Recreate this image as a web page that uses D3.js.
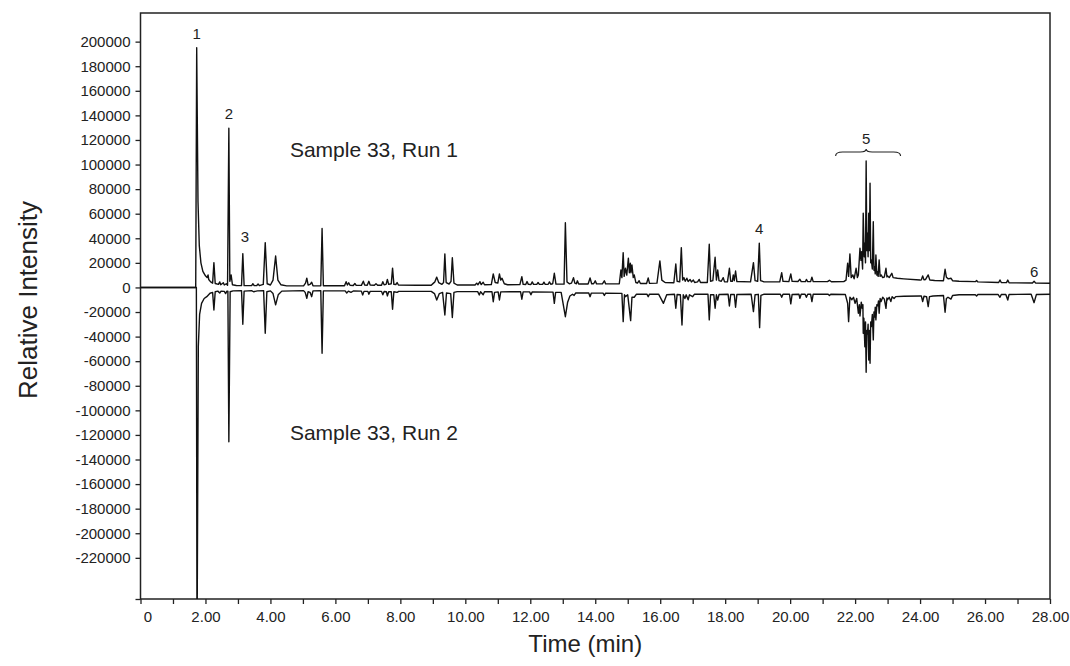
<!DOCTYPE html>
<html>
<head>
<meta charset="utf-8">
<script src="https://cdn.jsdelivr.net/npm/d3@7"></script>
<style>
  body { margin: 0; background: #fff; }
  text { font-family: "Liberation Sans", Arial, sans-serif; fill: #222; }
</style>
</head>
<body>
<div class="chromatogram"></div>
<script>
// Run 1 trace, [time (min), intensity]
const run1 = [
  [0, 0], [1.70, 0], [1.73, 195000], [1.77, 70000], [1.81, 34000], [1.86, 20000], [1.92, 13000], [2.00, 9500],
  [2.05, 8000], [2.08, 10200], [2.10, 6500], [2.16, 4500], [2.22, 3500], [2.26, 20200], [2.30, 3200], [2.40, 2500],
  [2.44, 4500], [2.47, 2200], [2.55, 3800], [2.58, 2000], [2.64, 3000], [2.68, 1800], [2.72, 129500], [2.75, 5000],
  [2.79, 10200], [2.83, 2200], [2.95, 1600], [3.11, 1500], [3.15, 27500], [3.19, 1500], [3.42, 1500], [3.46, 3000],
  [3.50, 1500], [3.58, 1600], [3.62, 2800], [3.66, 1500], [3.78, 2500], [3.84, 36500], [3.90, 3000], [4.00, 2000],
  [4.08, 6000], [4.16, 25600], [4.23, 6000], [4.32, 2200], [4.50, 1300], [5.02, 1300], [5.08, 3500], [5.12, 7500],
  [5.16, 2000], [5.22, 2500], [5.27, 4200], [5.31, 1300], [5.55, 1300], [5.59, 48000], [5.63, 1400], [6.28, 1400],
  [6.33, 4700], [6.37, 2000], [6.41, 3800], [6.45, 1800], [6.55, 1600], [6.60, 3200], [6.64, 1700], [6.80, 1700],
  [6.86, 5100], [6.90, 2000], [6.98, 1800], [7.03, 5000], [7.07, 2000], [7.20, 1800], [7.25, 3000], [7.30, 1800],
  [7.42, 1800], [7.46, 4700], [7.50, 2200], [7.56, 2500], [7.60, 6500], [7.64, 2500], [7.72, 3000], [7.76, 15700],
  [7.80, 2500], [7.86, 2400], [7.90, 4000], [7.94, 2000], [8.50, 1800], [8.95, 1800], [9.02, 3500], [9.06, 4500],
  [9.12, 8400], [9.18, 4000], [9.28, 2500], [9.33, 4000], [9.37, 27300], [9.41, 4000], [9.50, 2800], [9.56, 5000],
  [9.60, 24200], [9.65, 3500], [9.75, 2000], [10.30, 2000], [10.35, 3500], [10.39, 2200], [10.45, 4700], [10.49, 2300],
  [10.55, 4200], [10.59, 2200], [10.80, 2300], [10.86, 11000], [10.92, 4000], [11.00, 3500], [11.05, 11000], [11.09, 6000],
  [11.13, 7500], [11.20, 3000], [11.30, 2200], [11.68, 2300], [11.74, 8800], [11.78, 2500], [11.86, 2400], [11.90, 4800],
  [11.94, 2500], [12.02, 2400], [12.06, 4500], [12.10, 2500], [12.20, 2500], [12.24, 4000], [12.28, 2500], [12.38, 2500],
  [12.42, 4300], [12.46, 2500], [12.55, 2600], [12.59, 4500], [12.63, 2600], [12.69, 3000], [12.74, 11500], [12.79, 2700],
  [13.04, 2700], [13.08, 52700], [13.13, 4500], [13.20, 3000], [13.27, 3500], [13.33, 8000], [13.37, 3500], [13.42, 3000],
  [13.45, 5400], [13.49, 2800], [13.78, 2800], [13.84, 7700], [13.89, 3000], [13.95, 3000], [14.00, 5400], [14.04, 2900],
  [14.22, 2900], [14.28, 5400], [14.32, 2900], [14.74, 3000], [14.79, 14200], [14.82, 8000], [14.86, 28300], [14.89, 9000],
  [14.93, 15600], [14.97, 10000], [15.02, 23800], [15.05, 12000], [15.08, 19700], [15.10, 12000], [15.13, 18300], [15.17, 8000],
  [15.20, 10200], [15.25, 4000], [15.30, 3500], [15.35, 5500], [15.39, 3200], [15.58, 3200], [15.63, 7700], [15.67, 3300],
  [15.90, 3500], [15.99, 21600], [16.05, 6000], [16.15, 4000], [16.42, 3800], [16.48, 19100], [16.52, 5000], [16.60, 4500],
  [16.65, 32400], [16.69, 6000], [16.73, 8000], [16.77, 5000], [16.82, 7500], [16.86, 4800], [16.92, 6500], [16.96, 4500],
  [17.02, 6000], [17.06, 4000], [17.15, 4500], [17.20, 6500], [17.24, 4000], [17.45, 4000], [17.51, 35100], [17.55, 5000],
  [17.62, 5500], [17.69, 24600], [17.73, 6000], [17.77, 14200], [17.81, 5500], [17.88, 5000], [17.94, 8000], [17.98, 4500],
  [18.07, 4500], [18.13, 15600], [18.17, 5000], [18.22, 5000], [18.25, 10200], [18.28, 5500], [18.32, 13400], [18.36, 4800],
  [18.78, 4500], [18.87, 20200], [18.92, 5500], [19.00, 5000], [19.05, 36000], [19.09, 5500], [19.20, 4500], [19.68, 4500],
  [19.74, 12000], [19.78, 5000], [19.96, 4700], [20.02, 11000], [20.06, 5000], [20.24, 4800], [20.30, 6700], [20.34, 4700],
  [20.47, 4700], [20.50, 6500], [20.54, 4700], [20.63, 4700], [20.67, 8300], [20.71, 4700], [21.15, 4700], [21.21, 5800],
  [21.27, 4600], [21.65, 4700], [21.72, 6000], [21.77, 19700], [21.80, 9000], [21.84, 27300], [21.88, 8000], [21.93, 10200],
  [21.97, 7000], [22.03, 15600], [22.07, 8000], [22.10, 10200], [22.15, 31900], [22.18, 22000], [22.20, 29100], [22.23, 15000],
  [22.25, 60400], [22.28, 25000], [22.30, 36000], [22.32, 20000], [22.34, 102900], [22.36, 30000], [22.38, 44100], [22.40, 25000],
  [22.42, 60400], [22.44, 30000], [22.46, 84800], [22.48, 20000], [22.50, 22400], [22.53, 15000], [22.56, 53500], [22.58, 14000],
  [22.60, 16900], [22.62, 11000], [22.64, 26400], [22.67, 10000], [22.69, 12900], [22.71, 9000], [22.74, 22400], [22.77, 9000],
  [22.80, 10200], [22.85, 8000], [22.90, 8500], [22.95, 15600], [22.98, 8500], [23.00, 9400], [23.05, 8000], [23.13, 11500],
  [23.17, 8000], [23.30, 7500], [23.50, 7000], [24.00, 6000], [24.04, 6200], [24.08, 9400], [24.12, 6200], [24.17, 6500],
  [24.25, 10200], [24.30, 6000], [24.45, 5600], [24.72, 5500], [24.77, 14800], [24.81, 8300], [24.87, 7000], [24.95, 7500],
  [25.00, 5500], [25.20, 5000], [25.70, 4700], [25.74, 5600], [25.78, 4500], [26.42, 4000], [26.46, 6100], [26.50, 4000],
  [26.66, 3900], [26.70, 6000], [26.74, 3800], [27.46, 3600], [27.51, 5000], [27.56, 3500], [28.00, 3400]
];

// Run 2 trace, drawn inverted underneath
const run2 = [
  [0, 0], [1.72, 0], [1.74, -300000], [1.78, -48000], [1.82, -22000], [1.88, -12900], [1.96, -9000], [2.04, -7500],
  [2.14, -4700], [2.22, -4000], [2.26, -18300], [2.30, -3500], [2.38, -3000], [2.44, -4500], [2.48, -3000], [2.58, -3200],
  [2.62, -5000], [2.66, -3000], [2.69, -3000], [2.72, -125500], [2.76, -3500], [2.85, -2800], [3.11, -2600], [3.15, -29900],
  [3.19, -3000], [3.42, -2600], [3.48, -3500], [3.60, -2800], [3.79, -2600], [3.84, -37300], [3.89, -3500], [4.00, -2800],
  [4.08, -5000], [4.16, -14200], [4.24, -6000], [4.35, -3000], [5.02, -2600], [5.07, -4000], [5.12, -8800], [5.16, -3500],
  [5.22, -4000], [5.27, -7500], [5.31, -2800], [5.55, -2600], [5.59, -53500], [5.63, -2800], [6.30, -2800], [6.35, -4500],
  [6.40, -3000], [6.48, -4000], [6.55, -2900], [6.80, -3000], [6.84, -6100], [6.88, -3200], [7.00, -3200], [7.03, -5500],
  [7.07, -3200], [7.42, -3200], [7.46, -6000], [7.50, -3300], [7.57, -3500], [7.60, -6900], [7.64, -3500], [7.72, -3500],
  [7.76, -17700], [7.80, -3500], [7.90, -4000], [7.95, -3200], [8.95, -3200], [9.05, -5000], [9.12, -10200], [9.20, -5000],
  [9.30, -4000], [9.37, -22400], [9.42, -4500], [9.55, -5000], [9.60, -24400], [9.65, -4000], [9.75, -3400], [10.38, -3400],
  [10.43, -6100], [10.47, -3500], [10.55, -6000], [10.59, -3500], [10.82, -3500], [10.86, -11600], [10.90, -4000], [11.01, -3600],
  [11.05, -10200], [11.09, -3600], [11.70, -3500], [11.74, -9600], [11.78, -3600], [11.98, -3600], [12.02, -6000], [12.06, -3600],
  [12.70, -3800], [12.74, -12900], [12.78, -4000], [12.95, -4000], [13.08, -23800], [13.15, -12000], [13.22, -7000], [13.30, -5500],
  [13.35, -6500], [13.40, -4500], [13.80, -4500], [13.84, -7500], [13.88, -4600], [14.24, -4600], [14.28, -6500], [14.32, -4700],
  [14.82, -4800], [14.86, -27800], [14.90, -6000], [14.93, -7500], [15.00, -6000], [15.09, -27000], [15.13, -8000], [15.20, -8000],
  [15.27, -5500], [15.59, -5500], [15.63, -7500], [15.67, -5500], [15.95, -5500], [16.10, -12900], [16.20, -6000], [16.44, -5500],
  [16.48, -16900], [16.52, -5800], [16.62, -6000], [16.67, -30500], [16.71, -6000], [16.76, -9000], [16.80, -6000], [16.86, -10000],
  [16.90, -6000], [17.00, -7500], [17.05, -5600], [17.47, -5600], [17.51, -26400], [17.55, -6000], [17.65, -6000], [17.69, -16900],
  [17.73, -6000], [17.77, -10200], [17.81, -5800], [18.09, -5600], [18.13, -15100], [18.17, -5800], [18.28, -5700], [18.32, -16100],
  [18.36, -5800], [18.80, -5600], [18.87, -19700], [18.92, -6000], [19.02, -5600], [19.06, -32700], [19.10, -6500], [19.20, -5500],
  [19.70, -5500], [19.74, -8000], [19.78, -5500], [19.98, -5500], [20.02, -13400], [20.06, -5800], [20.27, -5500], [20.30, -8800],
  [20.34, -5500], [20.46, -5500], [20.50, -8000], [20.54, -5500], [20.63, -5500], [20.67, -11500], [20.71, -5500], [21.17, -5500],
  [21.21, -6500], [21.25, -5500], [21.70, -5800], [21.77, -12900], [21.80, -27800], [21.84, -8000], [21.90, -10000], [21.95, -8000],
  [22.00, -12900], [22.05, -9000], [22.10, -21000], [22.13, -14000], [22.15, -23200], [22.19, -12000], [22.22, -17000], [22.24, -14000],
  [22.25, -37300], [22.27, -25000], [22.30, -48200], [22.32, -28000], [22.34, -69000], [22.36, -35000], [22.38, -38000], [22.40, -30000],
  [22.42, -59000], [22.44, -35000], [22.46, -61700], [22.48, -28000], [22.50, -31900], [22.53, -22000], [22.56, -42700], [22.58, -20000],
  [22.60, -24000], [22.62, -16000], [22.64, -26400], [22.67, -14000], [22.70, -15000], [22.72, -11000], [22.74, -21000], [22.77, -9000],
  [22.80, -11500], [22.85, -8000], [22.90, -9500], [22.95, -17000], [22.98, -8500], [23.00, -10000], [23.05, -8000], [23.10, -11500],
  [23.14, -7500], [23.20, -9000], [23.25, -7500], [23.50, -7200], [24.00, -7000], [24.04, -7000], [24.08, -11500], [24.12, -7200],
  [24.20, -7500], [24.25, -15600], [24.29, -7500], [24.40, -7000], [24.72, -6500], [24.77, -20200], [24.81, -9000], [24.86, -8000],
  [24.95, -9500], [25.00, -6500], [25.20, -6000], [25.70, -6000], [25.74, -7000], [25.78, -5800], [26.40, -5700], [26.46, -8000],
  [26.50, -5700], [26.64, -5700], [26.70, -10200], [26.74, -5700], [27.42, -5600], [27.51, -12400], [27.58, -5800], [28.00, -5500]
];

// numbered peaks (times in min)
const peakLabels = ["1", "2", "3", "4", "5", "6"];
const peakTimes = [1.73, 2.72, 3.15, 19.05, 22.34, 27.51];
const braceSpan = [21.4, 23.4]; // peak group 5

// axis ticks
const yTicks = d3.range(-220000, 200001, 20000);
const xTicks = d3.range(0, 29, 1);

const margin = { top: 13, right: 20, bottom: 67, left: 140.5 };
const width = 1070 - margin.left - margin.right;
const height = 666 - margin.top - margin.bottom;

const root = d3.select(".chromatogram")
  .append("svg")
  .attr("width", 1070)
  .attr("height", 666);

const svg = root.append("g")
  .attr("transform", `translate(${margin.left},${margin.top})`);

const x = d3.scaleLinear().domain([0, 28]).range([0, width]);
const y = d3.scaleLinear().domain([-253500, 223300]).range([height, 0]);

svg.append("clipPath").attr("id", "plot")
  .append("rect").attr("width", width).attr("height", height);

// y axis, the bottom tick has no label
const yAxis = svg.append("g")
  .call(d3.axisLeft(y)
    .tickValues([y.domain()[0]].concat(yTicks))
    .tickSize(5)
    .tickPadding(5)
    .tickFormat(d => d === y.domain()[0] ? "" : String(d)));
yAxis.select(".domain").remove();
yAxis.selectAll("line").attr("stroke", "#222").attr("stroke-width", 1.3);
yAxis.selectAll("text").style("font-size", "15px").style("fill", "#222");

// x axis, every minute ticked, every 2 labelled
const xAxis = svg.append("g")
  .attr("transform", `translate(0,${height})`)
  .call(d3.axisBottom(x)
    .tickValues(xTicks)
    .tickSize(5)
    .tickPadding(7)
    .tickFormat(d => d % 2 ? "" : (d === 0 ? "0" : d.toFixed(2))));
xAxis.select(".domain").remove();
xAxis.selectAll("line").attr("stroke", "#222").attr("stroke-width", 1.3);
xAxis.selectAll("text").style("font-size", "15px").style("fill", "#222")
  .attr("dx", d => d === 0 ? 7 : 0);

// frame
svg.append("rect")
  .attr("width", width)
  .attr("height", height)
  .attr("fill", "none")
  .attr("stroke", "#222")
  .attr("stroke-width", 1.5);

const line = d3.line()
  .x(d => x(d[0]))
  .y(d => y(d[1]));

[run2, run1].forEach(run => {
  svg.append("path")
    .datum(run)
    .attr("clip-path", "url(#plot)")
    .attr("fill", "none")
    .attr("stroke", "#111")
    .attr("stroke-width", 1.4)
    .attr("stroke-linejoin", "round")
    .attr("d", line);
});

// peak numbers above the run 1 apex
const apex = t => d3.max(run1.filter(d => Math.abs(d[0] - t) < 0.03), d => d[1]);
peakLabels.forEach((lab, i) => {
  const top = y(apex(peakTimes[i]));
  svg.append("text")
    .attr("x", x(peakTimes[i]) + (lab === "3" ? 2 : 0))
    .attr("y", lab === "5" ? top - 17 : lab === "6" ? top - 4 : lab === "3" ? top - 12 : top - 9)
    .attr("text-anchor", "middle")
    .style("font-size", "15px")
    .text(lab);
});

// brace over group 5
const bx0 = x(braceSpan[0]), bx1 = x(braceSpan[1]);
const bxm = x(peakTimes[4]);
const by = y(apex(peakTimes[4])) - 9;
svg.append("path")
  .attr("fill", "none")
  .attr("stroke", "#222")
  .attr("stroke-width", 1.1)
  .attr("d", `M${bx0},${by + 4} Q${bx0},${by} ${bx0 + 7},${by} L${bxm - 6},${by} Q${bxm},${by} ${bxm},${by - 3}` +
    ` Q${bxm},${by} ${bxm + 6},${by} L${bx1 - 7},${by} Q${bx1},${by} ${bx1},${by + 4}`);

// run captions
svg.append("text")
  .attr("x", x(4.6))
  .attr("y", y(106000))
  .style("font-size", "21px")
  .text("Sample 33, Run 1");
svg.append("text")
  .attr("x", x(4.6))
  .attr("y", y(-124000))
  .style("font-size", "21px")
  .text("Sample 33, Run 2");

// axis titles
root.append("text")
  .attr("text-anchor", "middle")
  .attr("x", margin.left + width / 2 - 10)
  .attr("y", 652)
  .style("font-size", "24px")
  .text("Time (min)");

root.append("text")
  .attr("text-anchor", "middle")
  .attr("transform", "rotate(-90)")
  .attr("x", -300)
  .attr("y", 37)
  .style("font-size", "26px")
  .text("Relative Intensity");
</script>
</body>
</html>
